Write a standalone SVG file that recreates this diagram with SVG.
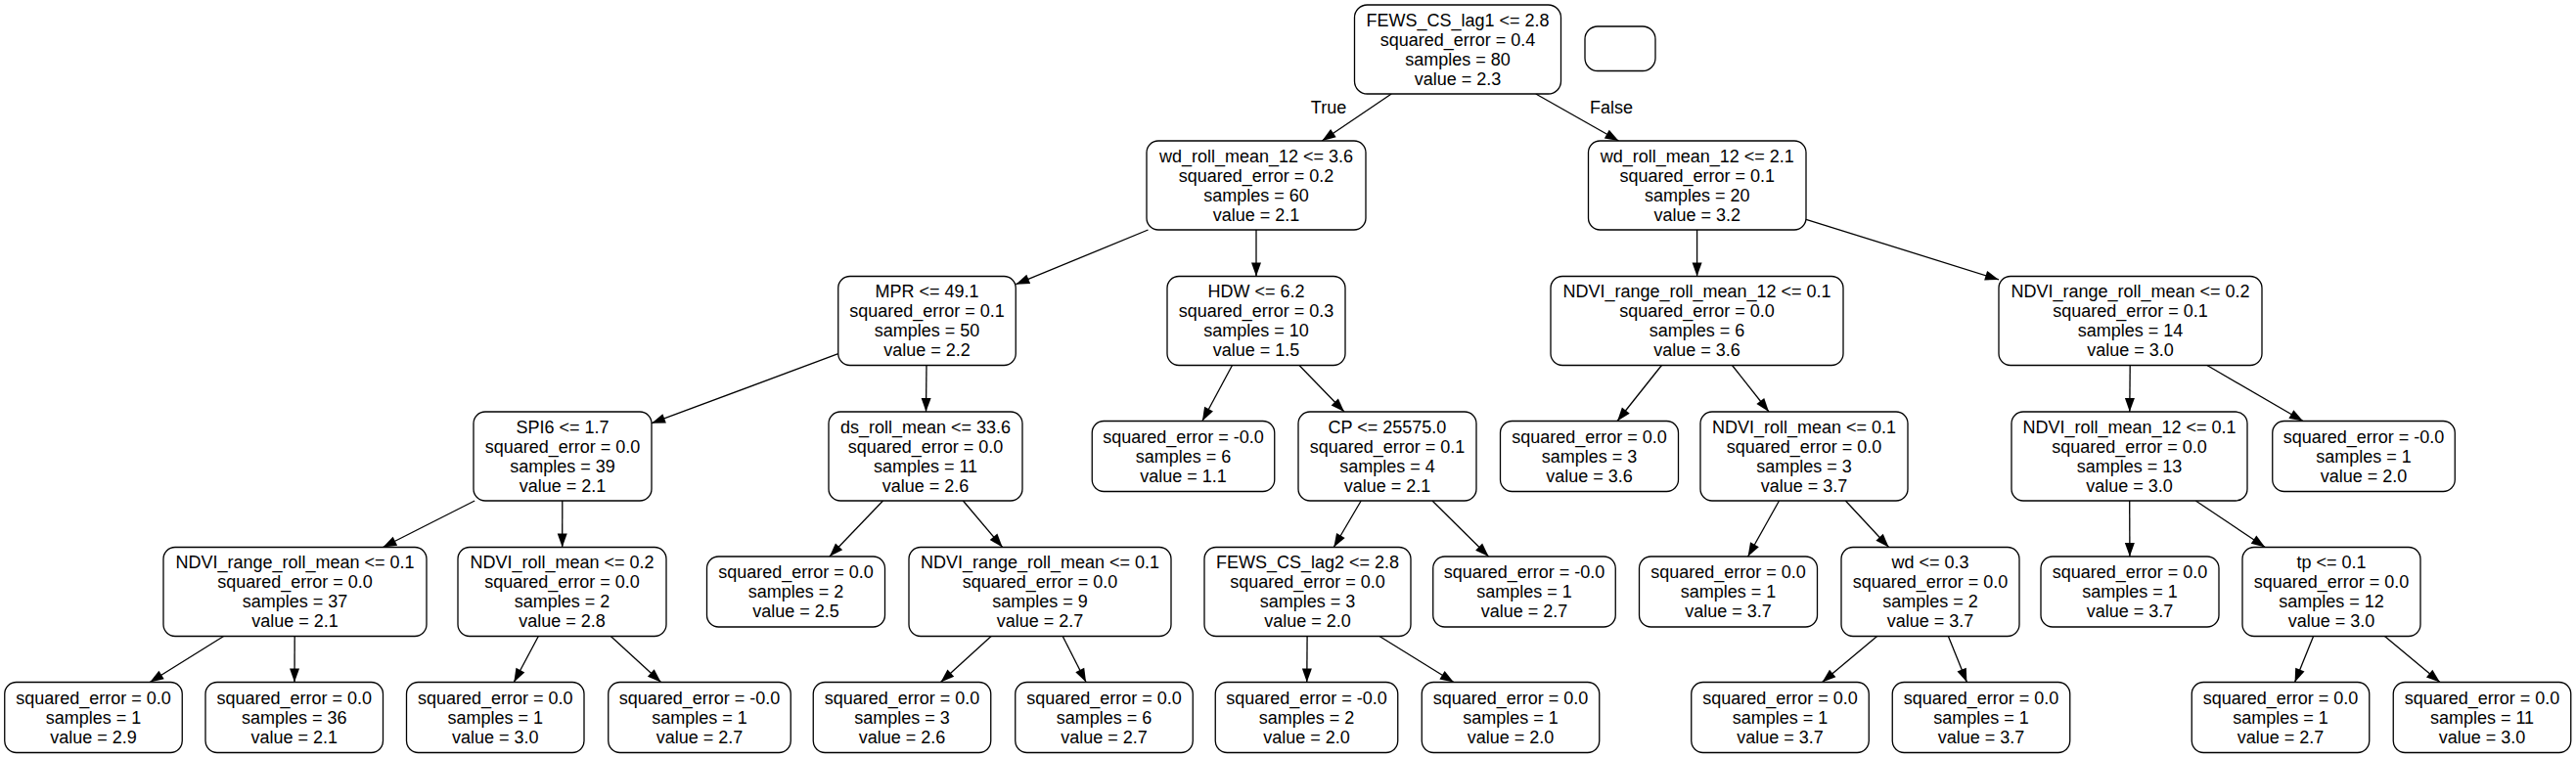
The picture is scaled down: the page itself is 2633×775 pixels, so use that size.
<svg xmlns="http://www.w3.org/2000/svg" width="2633" height="775" viewBox="0 0 2633 775">
<style>
.node rect { fill: #ffffff; stroke: #000000; stroke-width: 1.3; }
text { font-family: "Liberation Sans", Arial, Helvetica, sans-serif; font-size: 18px; text-anchor: middle; fill: #000000; }
.edges line { stroke: #000000; stroke-width: 1.3; marker-end: url(#arrow); }
</style>
<defs>
<marker id="arrow" markerUnits="userSpaceOnUse" markerWidth="14" markerHeight="11" refX="14" refY="5.5" orient="auto" overflow="visible">
<path d="M0,0.5 L14,5.5 L0,10.5 z" fill="#000000"/>
</marker>
</defs>
<rect x="0" y="0" width="2633" height="775" fill="#ffffff"/>

<g id="connectors" class="edges">
<line x1="1422.2" y1="96" x2="1351.3" y2="144"/>
<line x1="1569.8" y1="96" x2="1654.5" y2="144"/>
<line x1="1173.5" y1="235" x2="1038.3" y2="290.7"/>
<line x1="1284" y1="235" x2="1284" y2="282.5"/>
<line x1="1734.6" y1="235" x2="1734.6" y2="282.5"/>
<line x1="1846" y1="224.3" x2="2043" y2="285.9"/>
<line x1="856.8" y1="361.7" x2="666" y2="432.7"/>
<line x1="947" y1="373.5" x2="946.5" y2="421"/>
<line x1="1259.5" y1="373.5" x2="1228.9" y2="430.5"/>
<line x1="1328" y1="373.5" x2="1374" y2="421"/>
<line x1="1698.4" y1="373.5" x2="1653.1" y2="430.5"/>
<line x1="1770.5" y1="373.5" x2="1808" y2="421"/>
<line x1="2177.2" y1="373.5" x2="2176.8" y2="421"/>
<line x1="2255.9" y1="373.5" x2="2354" y2="430.5"/>
<line x1="485.2" y1="512" x2="391.4" y2="559.5"/>
<line x1="574.8" y1="512" x2="574.7" y2="559.5"/>
<line x1="902.5" y1="512" x2="847.9" y2="569"/>
<line x1="984.4" y1="512" x2="1024.6" y2="559.5"/>
<line x1="1391.2" y1="512" x2="1363.3" y2="559.5"/>
<line x1="1464" y1="512" x2="1521.6" y2="569"/>
<line x1="1818.5" y1="512" x2="1786.6" y2="569"/>
<line x1="1886.4" y1="512" x2="1930.6" y2="559.5"/>
<line x1="2176.7" y1="512" x2="2176.9" y2="569"/>
<line x1="2244.3" y1="512" x2="2315.2" y2="559.5"/>
<line x1="228.6" y1="650.5" x2="153.2" y2="697.5"/>
<line x1="301.2" y1="650.5" x2="301" y2="697.5"/>
<line x1="550.3" y1="650.5" x2="525.3" y2="697.5"/>
<line x1="624.3" y1="650.5" x2="675.6" y2="697.5"/>
<line x1="1013.1" y1="650.5" x2="961.5" y2="697.5"/>
<line x1="1086.2" y1="650.5" x2="1110.1" y2="697.5"/>
<line x1="1336.1" y1="650.5" x2="1335.8" y2="697.5"/>
<line x1="1410" y1="650.5" x2="1485.9" y2="697.5"/>
<line x1="1918.6" y1="650.5" x2="1862.5" y2="697.5"/>
<line x1="1991.4" y1="650.5" x2="2010.4" y2="697.5"/>
<line x1="2364.6" y1="650.5" x2="2345.6" y2="697.5"/>
<line x1="2437.5" y1="650.5" x2="2493.9" y2="697.5"/>
<text x="1358" y="116">True</text>
<text x="1647" y="116">False</text>
</g>

<g id="n0" class="node"><rect x="1384.5" y="5" width="211" height="91" rx="13"/>
<text x="1490" y="26.5">FEWS_CS_lag1 &lt;= 2.8</text><text x="1490" y="46.5">squared_error = 0.4</text><text x="1490" y="66.5">samples = 80</text><text x="1490" y="86.5">value = 2.3</text></g>
<g id="n_empty" class="node"><rect x="1620" y="27" width="72" height="45.5" rx="13"/></g>

<g id="n1" class="node"><rect x="1172" y="144" width="224" height="91" rx="12"/>
<text x="1284" y="165.5">wd_roll_mean_12 &lt;= 3.6</text><text x="1284" y="185.5">squared_error = 0.2</text><text x="1284" y="205.5">samples = 60</text><text x="1284" y="225.5">value = 2.1</text></g>
<g id="n2" class="node"><rect x="1623.5" y="144" width="222.5" height="91" rx="12"/>
<text x="1734.75" y="165.5">wd_roll_mean_12 &lt;= 2.1</text><text x="1734.75" y="185.5">squared_error = 0.1</text><text x="1734.75" y="205.5">samples = 20</text><text x="1734.75" y="225.5">value = 3.2</text></g>

<g id="n3" class="node"><rect x="856.75" y="282.5" width="181.5" height="91" rx="12"/>
<text x="947.5" y="304">MPR &lt;= 49.1</text><text x="947.5" y="324">squared_error = 0.1</text><text x="947.5" y="344">samples = 50</text><text x="947.5" y="364">value = 2.2</text></g>
<g id="n4" class="node"><rect x="1193" y="282.5" width="182" height="91" rx="12"/>
<text x="1284" y="304">HDW &lt;= 6.2</text><text x="1284" y="324">squared_error = 0.3</text><text x="1284" y="344">samples = 10</text><text x="1284" y="364">value = 1.5</text></g>
<g id="n5" class="node"><rect x="1585" y="282.5" width="299" height="91" rx="12"/>
<text x="1734.5" y="304">NDVI_range_roll_mean_12 &lt;= 0.1</text><text x="1734.5" y="324">squared_error = 0.0</text><text x="1734.5" y="344">samples = 6</text><text x="1734.5" y="364">value = 3.6</text></g>
<g id="n6" class="node"><rect x="2043" y="282.5" width="269" height="91" rx="12"/>
<text x="2177.5" y="304">NDVI_range_roll_mean &lt;= 0.2</text><text x="2177.5" y="324">squared_error = 0.1</text><text x="2177.5" y="344">samples = 14</text><text x="2177.5" y="364">value = 3.0</text></g>

<g id="n7" class="node"><rect x="484" y="421" width="182" height="91" rx="12"/>
<text x="575" y="442.5">SPI6 &lt;= 1.7</text><text x="575" y="462.5">squared_error = 0.0</text><text x="575" y="482.5">samples = 39</text><text x="575" y="502.5">value = 2.1</text></g>
<g id="n8" class="node"><rect x="847" y="421" width="198" height="91" rx="12"/>
<text x="946" y="442.5">ds_roll_mean &lt;= 33.6</text><text x="946" y="462.5">squared_error = 0.0</text><text x="946" y="482.5">samples = 11</text><text x="946" y="502.5">value = 2.6</text></g>
<g id="n9" class="node"><rect x="1116.25" y="430.5" width="186.5" height="72" rx="12"/>
<text x="1209.5" y="452.5">squared_error = -0.0</text><text x="1209.5" y="472.5">samples = 6</text><text x="1209.5" y="492.5">value = 1.1</text></g>
<g id="n10" class="node"><rect x="1327" y="421" width="182" height="91" rx="12"/>
<text x="1418" y="442.5">CP &lt;= 25575.0</text><text x="1418" y="462.5">squared_error = 0.1</text><text x="1418" y="482.5">samples = 4</text><text x="1418" y="502.5">value = 2.1</text></g>
<g id="n11" class="node"><rect x="1533.5" y="430.5" width="182" height="72" rx="12"/>
<text x="1624.5" y="452.5">squared_error = 0.0</text><text x="1624.5" y="472.5">samples = 3</text><text x="1624.5" y="492.5">value = 3.6</text></g>
<g id="n12" class="node"><rect x="1738" y="421" width="212" height="91" rx="12"/>
<text x="1844" y="442.5">NDVI_roll_mean &lt;= 0.1</text><text x="1844" y="462.5">squared_error = 0.0</text><text x="1844" y="482.5">samples = 3</text><text x="1844" y="502.5">value = 3.7</text></g>
<g id="n13" class="node"><rect x="2056" y="421" width="241" height="91" rx="12"/>
<text x="2176.5" y="442.5">NDVI_roll_mean_12 &lt;= 0.1</text><text x="2176.5" y="462.5">squared_error = 0.0</text><text x="2176.5" y="482.5">samples = 13</text><text x="2176.5" y="502.5">value = 3.0</text></g>
<g id="n14" class="node"><rect x="2322.75" y="430.5" width="186.5" height="72" rx="12"/>
<text x="2416" y="452.5">squared_error = -0.0</text><text x="2416" y="472.5">samples = 1</text><text x="2416" y="492.5">value = 2.0</text></g>

<g id="n15" class="node"><rect x="167" y="559.5" width="269" height="91" rx="12"/>
<text x="301.5" y="581">NDVI_range_roll_mean &lt;= 0.1</text><text x="301.5" y="601">squared_error = 0.0</text><text x="301.5" y="621">samples = 37</text><text x="301.5" y="641">value = 2.1</text></g>
<g id="n16" class="node"><rect x="468" y="559.5" width="213" height="91" rx="12"/>
<text x="574.5" y="581">NDVI_roll_mean &lt;= 0.2</text><text x="574.5" y="601">squared_error = 0.0</text><text x="574.5" y="621">samples = 2</text><text x="574.5" y="641">value = 2.8</text></g>
<g id="n17" class="node"><rect x="722.5" y="569" width="182" height="72" rx="12"/>
<text x="813.5" y="591">squared_error = 0.0</text><text x="813.5" y="611">samples = 2</text><text x="813.5" y="631">value = 2.5</text></g>
<g id="n18" class="node"><rect x="929" y="559.5" width="268" height="91" rx="12"/>
<text x="1063" y="581">NDVI_range_roll_mean &lt;= 0.1</text><text x="1063" y="601">squared_error = 0.0</text><text x="1063" y="621">samples = 9</text><text x="1063" y="641">value = 2.7</text></g>
<g id="n19" class="node"><rect x="1231" y="559.5" width="211" height="91" rx="12"/>
<text x="1336.5" y="581">FEWS_CS_lag2 &lt;= 2.8</text><text x="1336.5" y="601">squared_error = 0.0</text><text x="1336.5" y="621">samples = 3</text><text x="1336.5" y="641">value = 2.0</text></g>
<g id="n20" class="node"><rect x="1464.75" y="569" width="186.5" height="72" rx="12"/>
<text x="1558" y="591">squared_error = -0.0</text><text x="1558" y="611">samples = 1</text><text x="1558" y="631">value = 2.7</text></g>
<g id="n21" class="node"><rect x="1675.5" y="569" width="182" height="72" rx="12"/>
<text x="1766.5" y="591">squared_error = 0.0</text><text x="1766.5" y="611">samples = 1</text><text x="1766.5" y="631">value = 3.7</text></g>
<g id="n22" class="node"><rect x="1882" y="559.5" width="182" height="91" rx="12"/>
<text x="1973" y="581">wd &lt;= 0.3</text><text x="1973" y="601">squared_error = 0.0</text><text x="1973" y="621">samples = 2</text><text x="1973" y="641">value = 3.7</text></g>
<g id="n23" class="node"><rect x="2086" y="569" width="182" height="72" rx="12"/>
<text x="2177" y="591">squared_error = 0.0</text><text x="2177" y="611">samples = 1</text><text x="2177" y="631">value = 3.7</text></g>
<g id="n24" class="node"><rect x="2292" y="559.5" width="182" height="91" rx="12"/>
<text x="2383" y="581">tp &lt;= 0.1</text><text x="2383" y="601">squared_error = 0.0</text><text x="2383" y="621">samples = 12</text><text x="2383" y="641">value = 3.0</text></g>

<g id="n25" class="node"><rect x="4.75" y="697.5" width="181.5" height="72" rx="12"/>
<text x="95.5" y="719.5">squared_error = 0.0</text><text x="95.5" y="739.5">samples = 1</text><text x="95.5" y="759.5">value = 2.9</text></g>
<g id="n26" class="node"><rect x="210" y="697.5" width="181.5" height="72" rx="12"/>
<text x="300.75" y="719.5">squared_error = 0.0</text><text x="300.75" y="739.5">samples = 36</text><text x="300.75" y="759.5">value = 2.1</text></g>
<g id="n27" class="node"><rect x="415.5" y="697.5" width="181.5" height="72" rx="12"/>
<text x="506.25" y="719.5">squared_error = 0.0</text><text x="506.25" y="739.5">samples = 1</text><text x="506.25" y="759.5">value = 3.0</text></g>
<g id="n28" class="node"><rect x="621.75" y="697.5" width="186.5" height="72" rx="12"/>
<text x="715" y="719.5">squared_error = -0.0</text><text x="715" y="739.5">samples = 1</text><text x="715" y="759.5">value = 2.7</text></g>
<g id="n29" class="node"><rect x="831.25" y="697.5" width="181.5" height="72" rx="12"/>
<text x="922" y="719.5">squared_error = 0.0</text><text x="922" y="739.5">samples = 3</text><text x="922" y="759.5">value = 2.6</text></g>
<g id="n30" class="node"><rect x="1037.75" y="697.5" width="181.5" height="72" rx="12"/>
<text x="1128.5" y="719.5">squared_error = 0.0</text><text x="1128.5" y="739.5">samples = 6</text><text x="1128.5" y="759.5">value = 2.7</text></g>
<g id="n31" class="node"><rect x="1242.25" y="697.5" width="186.5" height="72" rx="12"/>
<text x="1335.5" y="719.5">squared_error = -0.0</text><text x="1335.5" y="739.5">samples = 2</text><text x="1335.5" y="759.5">value = 2.0</text></g>
<g id="n32" class="node"><rect x="1453.25" y="697.5" width="181.5" height="72" rx="12"/>
<text x="1544" y="719.5">squared_error = 0.0</text><text x="1544" y="739.5">samples = 1</text><text x="1544" y="759.5">value = 2.0</text></g>
<g id="n33" class="node"><rect x="1728.75" y="697.5" width="181.5" height="72" rx="12"/>
<text x="1819.5" y="719.5">squared_error = 0.0</text><text x="1819.5" y="739.5">samples = 1</text><text x="1819.5" y="759.5">value = 3.7</text></g>
<g id="n34" class="node"><rect x="1934.25" y="697.5" width="181.5" height="72" rx="12"/>
<text x="2025" y="719.5">squared_error = 0.0</text><text x="2025" y="739.5">samples = 1</text><text x="2025" y="759.5">value = 3.7</text></g>
<g id="n35" class="node"><rect x="2240.25" y="697.5" width="181.5" height="72" rx="12"/>
<text x="2331" y="719.5">squared_error = 0.0</text><text x="2331" y="739.5">samples = 1</text><text x="2331" y="759.5">value = 2.7</text></g>
<g id="n36" class="node"><rect x="2446.25" y="697.5" width="181.5" height="72" rx="12"/>
<text x="2537" y="719.5">squared_error = 0.0</text><text x="2537" y="739.5">samples = 11</text><text x="2537" y="759.5">value = 3.0</text></g>
</svg>
